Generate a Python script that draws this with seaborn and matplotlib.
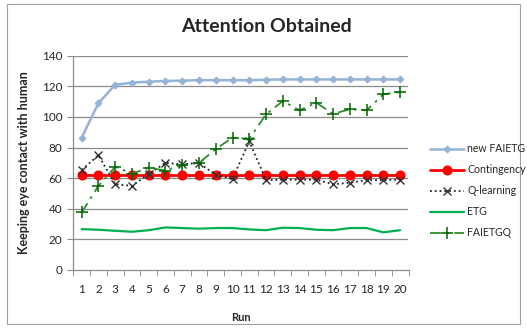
import matplotlib
matplotlib.use("Agg")
import matplotlib.pyplot as plt
import seaborn as sns
import pandas as pd
import numpy as np

runs = list(range(1, 21))
new_faietg = [86.5, 109, 121, 122.4, 123, 123.5, 123.7, 124, 124, 124, 124, 124.3,
              124.5, 124.5, 124.5, 124.5, 124.5, 124.5, 124.5, 124.5]
contingency = [62] * 20
q_learning = [65.4, 75, 56, 55, 62.6, 70, 69, 70, 62, 59.6, 84, 58.7,
              59, 59, 59, 56, 57, 58.7, 58.7, 59]
etg = [26.7, 26.3, 25.6, 25, 26, 27.8, 27.4, 27, 27.4, 27.4, 26.5, 26,
       27.6, 27.4, 26.3, 26, 27.4, 27.4, 24.6, 26]
faietgq = [37.6, 55, 67.4, 63, 66.7, 65, 68.5, 70, 79, 86.5, 85.7, 101.7,
           110.4, 104.3, 109.3, 102, 105, 104.3, 114.8, 116.3]

sns.set_style("white")
plt.rcParams['font.family'] = ['Lato', 'DejaVu Sans']

fig = plt.figure(figsize=(5.27, 3.28), dpi=100)
ax = fig.add_axes([73.3 / 527, 1 - 270 / 328, 335.2 / 527, 214.3 / 328])

grid_c = '#8c8c8c'
for y in range(20, 141, 20):
    ax.axhline(y, color=grid_c, lw=0.9, zorder=0)

sns.lineplot(x=runs, y=new_faietg, ax=ax, color='#95B3D7', lw=1.8, marker='D',
             markersize=3.5, markeredgecolor='#95B3D7', label='new FAIETG')
sns.lineplot(x=runs, y=contingency, ax=ax, color='#FF0000', lw=2, marker='o',
             markersize=6.5, markeredgecolor='#FF0000', label='Contingency')
sns.lineplot(x=runs, y=q_learning, ax=ax, color='#222222', lw=1.3, linestyle=':',
             marker='x', markersize=5.5, markeredgewidth=1, markeredgecolor='#333333',
             label='Q-learning')
sns.lineplot(x=runs, y=etg, ax=ax, color='#00B050', lw=1.6, label='ETG')
sns.lineplot(x=runs, y=faietgq, ax=ax, color='#2E8B2E', lw=1.3, dashes=(6, 3, 1.5, 3),
             marker='+', markersize=8.5, markeredgewidth=1.1, markeredgecolor='#006400',
             label='FAIETGQ')

ax.set_xlim(0.5, 20.5)
ax.set_ylim(0, 140)
ax.set_yticks(np.arange(0, 141, 20))
ax.set_xticks(runs)
ax.set_xticks(np.arange(0.5, 20.6, 1), minor=True)
ax.tick_params(axis='x', which='major', length=0, pad=10, labelsize=8.5)
ax.tick_params(axis='x', which='minor', length=4, color=grid_c, direction='out', bottom=True)
ax.tick_params(axis='y', length=4, color=grid_c, direction='out', left=True, labelsize=8.5, pad=4)

for s in ['top', 'right']:
    ax.spines[s].set_visible(False)
for s in ['left', 'bottom']:
    ax.spines[s].set_color(grid_c)
    ax.spines[s].set_linewidth(0.9)

ax.set_xlabel('Run', fontsize=8, fontweight='bold', labelpad=12)
ax.set_ylabel('Keeping eye contact with human', fontsize=9, fontweight='bold', labelpad=8)

handles, labels = ax.get_legend_handles_labels()
ax.get_legend().remove()
fig.legend(handles, labels, loc='upper left', bbox_to_anchor=(426 / 527, 1 - 139 / 328),
           frameon=False, fontsize=7.6, handlelength=3.2, handletextpad=0.3,
           labelspacing=0.95, borderaxespad=0)

fig.text(266 / 527, 1 - 27 / 328, 'Attention Obtained',
         ha='center', va='center', fontsize=14, fontweight='bold')

fig.patches.append(plt.Rectangle((7 / 527, 4 / 328), 513 / 527, 320 / 328, fill=False,
                                 edgecolor='#a0a0a0', lw=0.8, transform=fig.transFigure))

fig.savefig('out.png', dpi=100)
